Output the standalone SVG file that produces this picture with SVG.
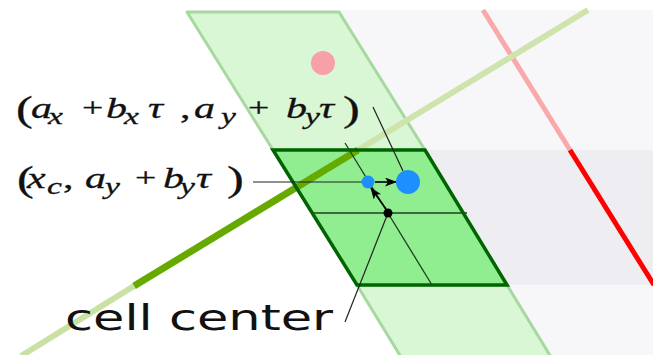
<svg xmlns="http://www.w3.org/2000/svg" width="653" height="355" viewBox="0 0 653 355">
<style>
.m{font-family:"Liberation Serif","DejaVu Serif",serif;font-size:30px;fill:#111;stroke:#111;stroke-width:0.3}
.i{font-style:italic}
.s{font-style:italic;font-size:24px}
.u{font-size:27px}
.p{font-size:36px}
.thin{stroke:#222;stroke-width:1.2;fill:none}
.grid{stroke:#1f3f1f;stroke-width:1.3;fill:none}
</style>
<defs>
<marker id="ah" markerWidth="12" markerHeight="10" refX="11" refY="4.5" orient="auto" markerUnits="userSpaceOnUse">
<path d="M0,0 L12,4.5 L0,9 L3,4.5 z" fill="#000"/>
</marker>
</defs>
<rect width="653" height="355" fill="#fff"/>
<g id="domain">
<polygon points="338,10 653,10 653,355 551,355 507,285 425,150" fill="#f7f7fa"/>
<polygon points="425,150 653,150 653,285 507,285" fill="#eeeef2"/>
</g>
<g id="band">
<polygon points="187,12 339,12 425,150 273,150" fill="#d9f7d4" stroke="#a6d8a0" stroke-width="3" stroke-linejoin="round"/>
<polygon points="357,285 507,285 551,357 401,357" fill="#d9f7d4" stroke="#a6d8a0" stroke-width="3"/>
</g>
<g id="red-boundary">
<line x1="483" y1="10" x2="570" y2="150" stroke="#f9a9a9" stroke-width="5"/>
<line x1="570" y1="150" x2="654" y2="285" stroke="#ff0000" stroke-width="5"/>
</g>
<g id="red-dot"><circle cx="323" cy="63" r="12" fill="#f8a0a8"/></g>
<g id="cell-fill"><polygon points="273,150 425,150 507,285 357,285" fill="#90ee90"/></g>
<g id="interface">
<line x1="588" y1="10" x2="358" y2="150" stroke="#cfe4ac" stroke-width="6"/>
<line x1="358" y1="150" x2="134" y2="286" stroke="#66aa00" stroke-width="7"/>
<line x1="134" y1="286" x2="21" y2="356" stroke="#c9e2a4" stroke-width="6"/>
</g>
<g id="cell">
<line class="grid" x1="345" y1="143" x2="432" y2="285"/>
<line class="grid" x1="312" y1="213" x2="467" y2="213"/>
<polygon points="273,150 425,150 507,285 357,285" fill="none" stroke="#006400" stroke-width="3.5" stroke-linejoin="miter"/>
</g>
<g id="connectors">
<line class="thin" x1="253" y1="182" x2="362" y2="182" stroke="#333"/>
<line class="thin" x1="373" y1="107" x2="403" y2="171"/>
<line class="thin" x1="345" y1="322" x2="388" y2="213"/>
<line x1="375" y1="182" x2="396" y2="182" stroke="#000" stroke-width="1.6" marker-end="url(#ah)"/>
<line x1="386" y1="209" x2="371" y2="188" stroke="#000" stroke-width="1.6" marker-end="url(#ah)"/>
</g>
<g id="cell-center"><circle cx="388" cy="213" r="4.5" fill="#000"/></g>
<g id="point-xc"><circle cx="368" cy="182" r="6.5" fill="#1e8fff"/></g>
<g id="point-a"><circle cx="408" cy="182" r="12" fill="#1e8fff"/></g>
<g id="label-a" transform="scale(1.4,1)">
<text class="m"><tspan class="p" x="11.4" y="121">(</tspan><tspan class="i" x="22.1" y="118">a</tspan><tspan class="s" x="34.3" y="124">x</tspan><tspan class="u" x="58.6" y="117">+</tspan><tspan class="i" x="75.7" y="118">b</tspan><tspan class="s" x="88.6" y="124">x</tspan><tspan class="i" x="105.7" y="118">τ</tspan><tspan x="128.6" y="118">,</tspan><tspan class="i" x="138.6" y="118">a</tspan><tspan class="s" x="157.9" y="124">y</tspan><tspan class="u" x="177.1" y="117">+</tspan><tspan class="i" x="204.3" y="118">b</tspan><tspan class="s" x="217.9" y="124">y</tspan><tspan class="i" x="227.9" y="118">τ</tspan><tspan class="p" x="245" y="121">)</tspan></text>
</g>
<g id="label-xc" transform="scale(1.4,1)">
<text class="m"><tspan class="p" x="12.1" y="191">(</tspan><tspan class="i" x="19.3" y="188">x</tspan><tspan class="s" x="33.6" y="194">c</tspan><tspan x="45" y="188">,</tspan><tspan class="i" x="60.7" y="188">a</tspan><tspan class="s" x="75" y="194">y</tspan><tspan class="u" x="96.4" y="187">+</tspan><tspan class="i" x="116.4" y="188">b</tspan><tspan class="s" x="128.6" y="194">y</tspan><tspan class="i" x="140" y="188">τ</tspan><tspan class="p" x="162.1" y="191">)</tspan></text>
</g>
<g id="label-cell-center">
<text x="65" y="330" font-family="DejaVu Sans, sans-serif" font-size="35" fill="#111" textLength="268" lengthAdjust="spacingAndGlyphs">cell center</text>
</g>
</svg>
